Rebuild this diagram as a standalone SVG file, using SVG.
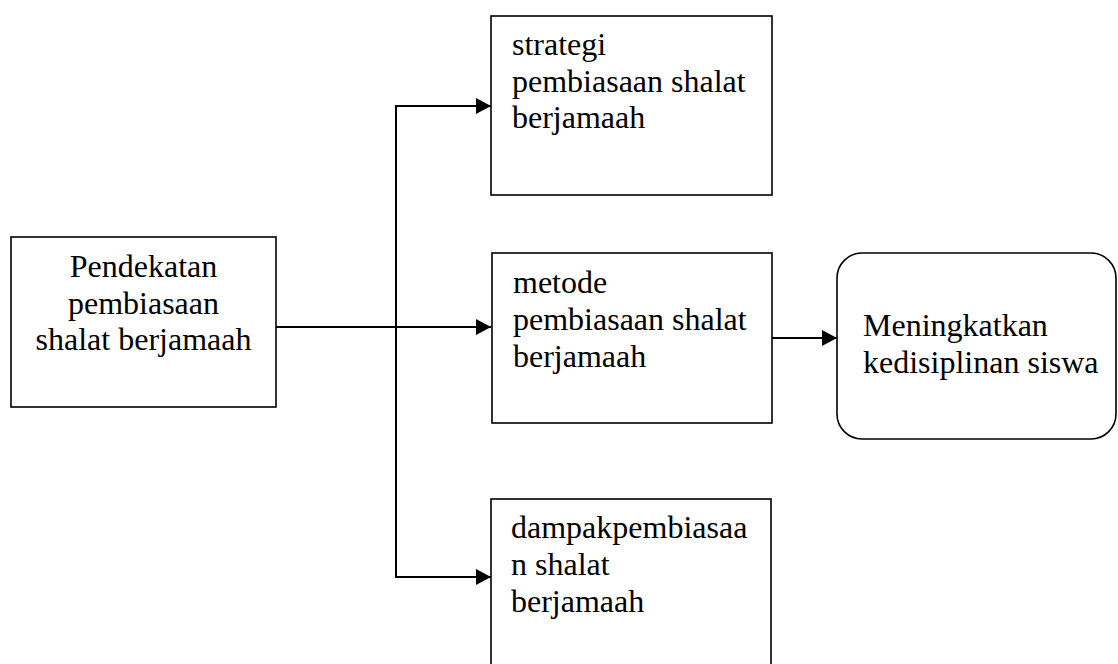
<svg xmlns="http://www.w3.org/2000/svg" width="1118" height="664" viewBox="0 0 1118 664">
<style>
.box{fill:#fff;stroke:#000;stroke-width:1.6}
.t{font-family:"Liberation Serif","Times New Roman",serif;font-size:32px;fill:#000}
.c{fill:none;stroke:#000;stroke-width:2}
</style>
<defs>
<marker id="ah" markerUnits="userSpaceOnUse" markerWidth="15" markerHeight="16" refX="15" refY="8" orient="auto">
<path d="M0,0 L15,8 L0,16 z" fill="#000"/>
</marker>
</defs>
<rect width="1118" height="664" fill="#fff"/>
<g id="connectors">
<line class="c" x1="276" y1="327" x2="491" y2="327" marker-end="url(#ah)"/>
<polyline class="c" points="491,106 396,106 396,577 491,577"/>
<line class="c" x1="396" y1="106" x2="491" y2="106" marker-end="url(#ah)"/>
<line class="c" x1="396" y1="577" x2="491" y2="577" marker-end="url(#ah)"/>
<line class="c" x1="772" y1="338" x2="837" y2="338" marker-end="url(#ah)"/>
</g>
<g id="pendekatan">
<rect class="box" x="11" y="237" width="265" height="170"/>
<text class="t" text-anchor="middle"><tspan x="143.5" y="277">Pendekatan</tspan><tspan x="143.5" y="313.5">pembiasaan</tspan><tspan x="143.5" y="350">shalat berjamaah</tspan></text>
</g>
<g id="strategi">
<rect class="box" x="491" y="16" width="281" height="179"/>
<text class="t"><tspan x="512" y="55">strategi</tspan><tspan x="512" y="91.5">pembiasaan shalat</tspan><tspan x="512" y="128">berjamaah</tspan></text>
</g>
<g id="metode">
<rect class="box" x="492" y="253" width="280" height="170"/>
<text class="t"><tspan x="513" y="293">metode</tspan><tspan x="513" y="330">pembiasaan shalat</tspan><tspan x="513" y="367">berjamaah</tspan></text>
</g>
<g id="dampak">
<rect class="box" x="491" y="499" width="280" height="180"/>
<text class="t"><tspan x="511" y="538">dampakpembiasaa</tspan><tspan x="511" y="575">n shalat</tspan><tspan x="511" y="612">berjamaah</tspan></text>
</g>
<g id="meningkatkan">
<rect class="box" x="837" y="253" width="279" height="186" rx="25" ry="25"/>
<text class="t"><tspan x="863" y="336">Meningkatkan</tspan><tspan x="863" y="372.5">kedisiplinan siswa</tspan></text>
</g>
</svg>
